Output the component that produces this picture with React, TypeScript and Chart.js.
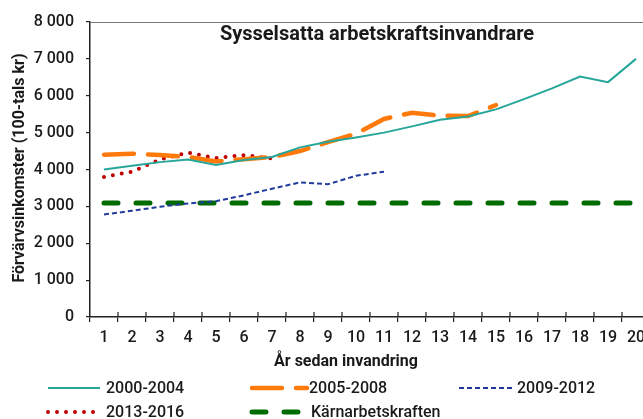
import React, { useEffect, useRef } from "react";
import { Chart, registerables } from "chart.js";

Chart.register(...registerables);

const categories = ["1","2","3","4","5","6","7","8","9","10","11","12","13","14","15","16","17","18","19","20"];
const s2000_2004 = [4000, 4100, 4200, 4270, 4120, 4260, 4340, 4600, 4750, 4870, 5000, 5170, 5350, 5440, 5630, 5910, 6200, 6520, 6370, 7000];
const s2005_2008 = [4400, 4430, 4390, 4340, 4220, 4280, 4340, 4500, 4740, 4970, 5370, 5540, 5460, 5450, 5750];
const s2009_2012 = [2780, 2880, 2990, 3080, 3140, 3300, 3480, 3650, 3600, 3830, 3940];
const s2013_2016 = [3800, 3940, 4270, 4460, 4310, 4390, 4300];
const sKarn = [3090, 3090, 3090, 3090, 3090, 3090, 3090, 3090, 3090, 3090, 3090, 3090, 3090, 3090, 3090, 3090, 3090, 3090, 3090, 3090];
const seriesNames = ["2000-2004", "2005-2008", "2009-2012", "2013-2016", "Kärnarbetskraften"];
const chartTitle = "Sysselsatta arbetskraftsinvandrare";
const yTitle = "Förvärvsinkomster (100-tals kr)";
const xTitle = "År sedan invandring";

const FONT = "Roboto";
const TXT = "#1a1a1a";

const legendPos = [
  { x0: 48, x1: 100, y: 388, tx: 106 },
  { x0: 252, x1: 307, y: 388, tx: 309 },
  { x0: 459, x1: 512, y: 388, tx: 517 },
  { x0: 48, x1: 98, y: 412, tx: 106 },
  { x0: 252, x1: 303, y: 412, tx: 311 },
];

const decorPlugin = {
  id: "decor",
  afterDraw(chart: any) {
    const ctx = chart.ctx;
    const a = chart.chartArea;
    ctx.save();
    // top border
    ctx.strokeStyle = "#7a7a7a";
    ctx.lineWidth = 1;
    ctx.beginPath();
    ctx.moveTo(a.left, a.top + 0.5);
    ctx.lineTo(a.right, a.top + 0.5);
    ctx.stroke();
    // x ticks above axis
    const xs = chart.scales.x;
    ctx.strokeStyle = "#222";
    ctx.lineWidth = 1.2;
    for (let i = 1; i < categories.length; i++) {
      const px = (xs.getPixelForValue(i - 1) + xs.getPixelForValue(i)) / 2;
      ctx.beginPath();
      ctx.moveTo(px, a.bottom - 5);
      ctx.lineTo(px, a.bottom);
      ctx.stroke();
    }
    // title
    ctx.fillStyle = TXT;
    ctx.font = `bold 20px ${FONT}`;
    ctx.textAlign = "center";
    ctx.textBaseline = "middle";
    ctx.fillText(chartTitle, 377, 35);
    // x title
    ctx.font = `bold 16px ${FONT}`;
    ctx.fillText(xTitle, 346, 362);
    // y title
    ctx.save();
    ctx.translate(20, 168);
    ctx.rotate(-Math.PI / 2);
    ctx.font = `bold 16px ${FONT}`;
    ctx.fillText(yTitle, 0, 0);
    ctx.restore();
    // legend
    chart.data.datasets.forEach((ds: any, i: number) => {
      const p = legendPos[i];
      ctx.save();
      ctx.strokeStyle = ds.borderColor;
      ctx.lineWidth = ds.borderWidth;
      ctx.lineCap = ds.borderCapStyle || "butt";
      ctx.setLineDash(ds.borderDash || []);
      ctx.beginPath();
      ctx.moveTo(p.x0, p.y);
      ctx.lineTo(p.x1, p.y);
      ctx.stroke();
      ctx.restore();
      ctx.fillStyle = TXT;
      ctx.font = `500 16px ${FONT}`;
      ctx.textAlign = "left";
      ctx.textBaseline = "middle";
      ctx.fillText(ds.label, p.tx, p.y + 1);
    });
    ctx.restore();
  },
};

export default function App() {
  const ref = useRef<HTMLCanvasElement>(null);
  useEffect(() => {
    document.body.style.margin = "0";
    document.documentElement.style.overflow = "hidden";
    document.body.style.overflow = "hidden";
    const chart = new Chart(ref.current as HTMLCanvasElement, {
      type: "line",
      data: {
        labels: categories,
        datasets: [
          { label: seriesNames[0], data: s2000_2004, borderColor: "#26A69A", borderWidth: 2, pointRadius: 0, fill: false },
          { label: seriesNames[1], data: s2005_2008, borderColor: "#FF7A0A", borderWidth: 4.5, borderDash: [30, 14], borderCapStyle: "round", pointRadius: 0, fill: false },
          { label: seriesNames[2], data: s2009_2012, borderColor: "#1F3C9C", borderWidth: 2, borderDash: [5, 3], pointRadius: 0, fill: false },
          { label: seriesNames[3], data: s2013_2016, borderColor: "#C00000", borderWidth: 4, borderDash: [0, 9], borderCapStyle: "round", pointRadius: 0, fill: false },
          { label: seriesNames[4], data: sKarn, borderColor: "#006B00", borderWidth: 5, borderDash: [14, 18], borderCapStyle: "round", pointRadius: 0, fill: false },
        ],
      },
      options: {
        animation: false,
        responsive: false,
        maintainAspectRatio: false,
        layout: { padding: { top: 22, right: 10, bottom: 72, left: 0 } },
        plugins: { legend: { display: false }, tooltip: { enabled: false }, title: { display: false } },
        scales: {
          x: {
            type: "category",
            offset: true,
            afterFit: (s: any) => { s.height = 30; },
            grid: { display: true, offset: true, drawOnChartArea: false, drawTicks: true, tickLength: 5, color: "#222", lineWidth: 1.2 },
            border: { display: true, color: "#222", width: 1.5 },
            ticks: { color: TXT, font: { family: FONT, size: 16, weight: "500" }, padding: 6, maxRotation: 0, autoSkip: false },
          },
          y: {
            min: 0,
            max: 8000,
            afterFit: (s: any) => { s.width = 90; },
            grid: { display: true, drawOnChartArea: false, drawTicks: true, tickLength: 4, color: "#222", lineWidth: 1.2 },
            border: { display: true, color: "#222", width: 1.5 },
            ticks: {
              stepSize: 1000,
              padding: 12,
              color: TXT,
              font: { family: FONT, size: 16, weight: "500" },
              callback: (v: any) => {
                const n = Number(v);
                if (n >= 1000) return Math.floor(n / 1000) + " " + String(n % 1000).padStart(3, "0");
                return String(n);
              },
            },
          },
        },
      },
      plugins: [decorPlugin],
    } as any);
    return () => chart.destroy();
  }, []);
  return (
    <div style={{ width: 660, height: 419, overflow: "hidden" }}>
      <canvas ref={ref} width={660} height={419} style={{ display: "block" }} />
    </div>
  );
}
